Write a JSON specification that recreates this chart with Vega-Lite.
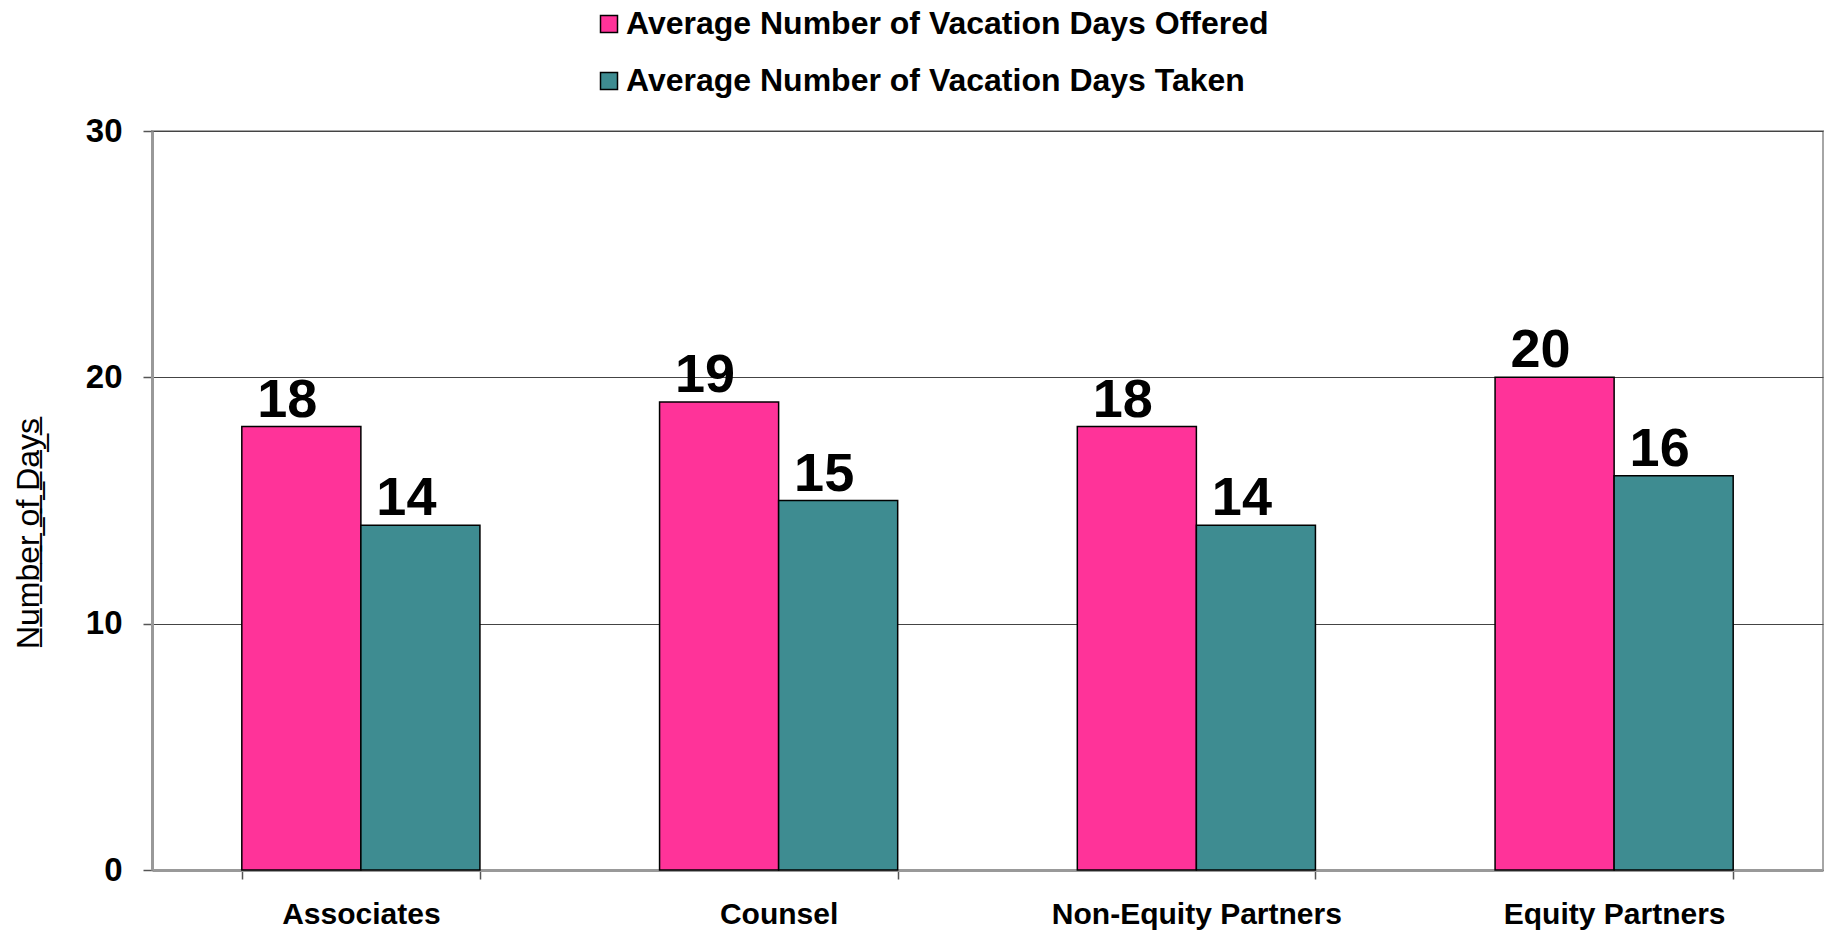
{
  "$schema": "https://vega.github.io/schema/vega-lite/v6.json",
  "autosize": "none",
  "width": 1671,
  "height": 739,
  "padding": {"left": 152, "top": 131, "right": 11, "bottom": 65},
  "background": "white",
  "config": {
    "font": "Liberation Sans",
    "view": {"stroke": "#a6a6a6", "strokeWidth": 2}
  },
  "data": {
    "values": [
      {"group": "Associates", "series": "Average Number of Vacation Days Offered", "days": 18},
      {"group": "Associates", "series": "Average Number of Vacation Days Taken", "days": 14},
      {"group": "Counsel", "series": "Average Number of Vacation Days Offered", "days": 19},
      {"group": "Counsel", "series": "Average Number of Vacation Days Taken", "days": 15},
      {"group": "Non-Equity Partners", "series": "Average Number of Vacation Days Offered", "days": 18},
      {"group": "Non-Equity Partners", "series": "Average Number of Vacation Days Taken", "days": 14},
      {"group": "Equity Partners", "series": "Average Number of Vacation Days Offered", "days": 20},
      {"group": "Equity Partners", "series": "Average Number of Vacation Days Taken", "days": 16}
    ]
  },
  "encoding": {
    "x": {
      "field": "group",
      "type": "nominal",
      "sort": ["Associates", "Counsel", "Non-Equity Partners", "Equity Partners"],
      "scale": {"paddingInner": 0.43, "paddingOuter": 0.215},
      "axis": {
        "title": null,
        "labelAngle": 0,
        "labelFont": "Liberation Sans",
        "labelFontSize": 30,
        "labelFontWeight": "bold",
        "labelColor": "black",
        "labelPadding": 20,
        "labelLimit": 1000,
        "tickBand": "extent",
        "tickSize": 9,
        "tickColor": "#555555",
        "tickWidth": 1.5,
        "domainColor": "#999999",
        "domainWidth": 3
      }
    },
    "xOffset": {
      "field": "series",
      "type": "nominal",
      "sort": ["Average Number of Vacation Days Offered", "Average Number of Vacation Days Taken"],
      "scale": {"paddingInner": 0, "paddingOuter": 0}
    },
    "y": {
      "field": "days",
      "type": "quantitative",
      "scale": {"domain": [0, 30], "nice": false},
      "axis": {
        "values": [0, 10, 20, 30],
        "title": "N̲u̲m̲b̲e̲r̲ ̲o̲f̲ ̲D̲a̲y̲s̲",
        "titleFont": "Liberation Sans",
        "titleFontSize": 32,
        "titleFontWeight": "normal",
        "titleColor": "black",
        "titleAngle": 270,
        "titleAlign": "center",
        "titleBaseline": "alphabetic",
        "titleX": -114,
        "titleY": 402,
        "labelFont": "Liberation Sans",
        "labelFontSize": 33,
        "labelFontWeight": "bold",
        "labelColor": "black",
        "labelPadding": 21,
        "tickSize": 9,
        "tickColor": "#555555",
        "tickWidth": 1.5,
        "domainColor": "#999999",
        "domainWidth": 3,
        "grid": true,
        "gridColor": "#444444",
        "gridWidth": 1
      }
    }
  },
  "layer": [
    {
      "mark": {"type": "bar", "stroke": "black", "strokeWidth": 1.5},
      "encoding": {
        "color": {
          "field": "series",
          "type": "nominal",
          "scale": {
            "domain": ["Average Number of Vacation Days Offered", "Average Number of Vacation Days Taken"],
            "range": ["#FF3399", "#3E8C91"]
          },
          "legend": {
            "title": null,
            "orient": "none",
            "legendX": 441,
            "legendY": -123,
            "direction": "vertical",
            "symbolType": "square",
            "symbolSize": 289,
            "symbolStrokeColor": "black",
            "symbolStrokeWidth": 1.5,
            "symbolOpacity": 1,
            "labelFont": "Liberation Sans",
            "labelFontSize": 32,
            "labelFontWeight": "bold",
            "labelColor": "black",
            "labelOffset": 1,
            "labelLimit": 1000,
            "rowPadding": 25
          }
        }
      }
    },
    {
      "mark": {
        "type": "text",
        "baseline": "alphabetic",
        "align": "center",
        "dx": -14,
        "dy": -10,
        "font": "Liberation Sans",
        "fontSize": 54,
        "fontWeight": "bold",
        "color": "black"
      },
      "encoding": {
        "text": {"field": "days", "type": "quantitative"}
      }
    }
  ]
}
